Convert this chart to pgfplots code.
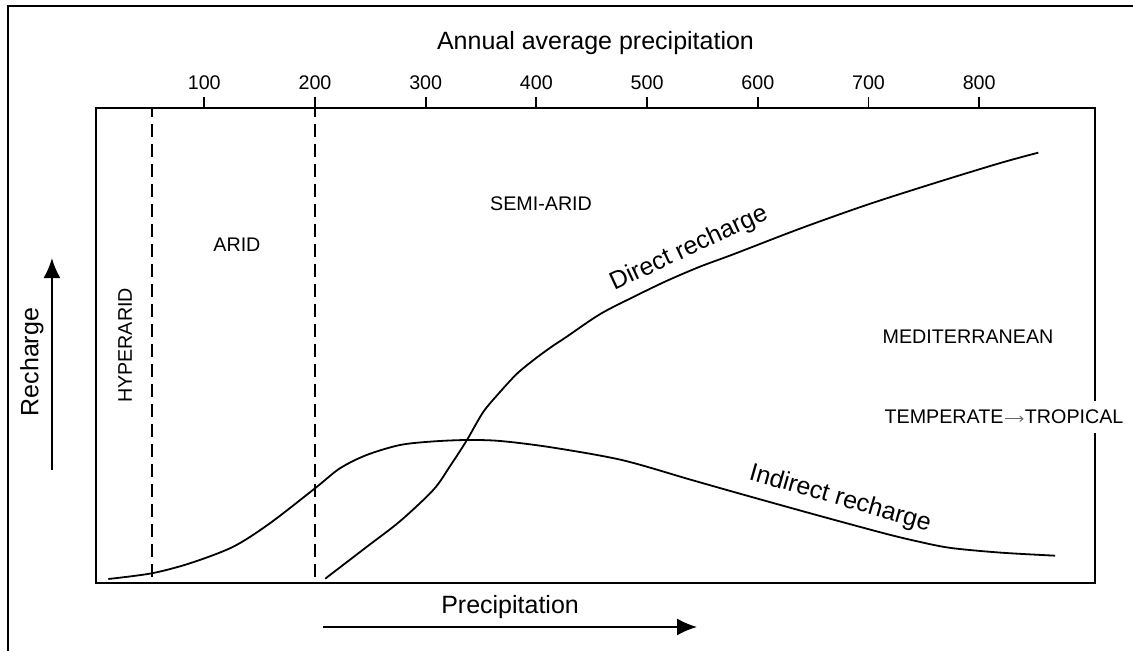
\documentclass[border=0pt]{standalone}
\usepackage{pgfplots}
\pgfplotsset{compat=1.18}
\usepackage{fontspec}
\setmainfont{Liberation Sans}
\usetikzlibrary{arrows.meta}
\tikzset{
  small/.style={font=\fontsize{9.85}{12}\selectfont},
  big/.style={font=\fontsize{12.5}{15}\selectfont},
}
\newcommand{\grayarrow}{\kern0.4pt\tikz[baseline=-0.5ex]\draw[black!60, line width=0.45pt, -{Straight Barb[length=1.6pt,width=2.8pt]}] (0,0) -- (9.4pt,0);\kern0.4pt}
\begin{document}
\begin{tikzpicture}
\useasboundingbox (0,0) rectangle (566.5pt,325.5pt);
\draw[line width=1pt] (4.15pt,-5pt) -- (4.15pt,322.65pt) -- (575pt,322.65pt);
\begin{axis}[
  at={(48pt,34pt)}, anchor=south west,
  scale only axis, width=499.5pt, height=237.5pt,
  xmin=2.2, xmax=904.6, ymin=0, ymax=100,
  axis line style={line width=0.65pt},
  xtick={100,200,...,800}, ytick=\empty,
  xtick pos=right, xticklabel pos=right, xtick align=outside,
  major tick length=5.5pt,
  every tick/.style={black, line width=0.9pt},
  tick label style={font=\fontsize{9.85}{12}\selectfont},
  /pgf/number format/assume math mode=true,
  clip=false,
]
% zone dividers
\addplot[black, line width=1pt, dash pattern=on 6.5pt off 3.5pt] coordinates {(52.5,1.3) (52.5,100)};
\addplot[black, line width=1pt, dash pattern=on 6.5pt off 3.5pt] coordinates {(200,1.3) (200,100)};
% indirect recharge
\addplot[black, line width=0.9pt, smooth, tension=0.5] coordinates {
(13.3,0.84) (52.5,2.04) (87.1,4.15) (126.2,7.64) (159.3,12.57) (200,19.93)
(222.6,24.15) (246.7,26.95) (276.8,29.05) (306.6,29.8) (337,30.1) (367,29.9)
(412.3,28.6) (477,25.9) (540,21.7) (593,18.2) (653.2,14.3) (713.4,10.5)
(743.5,8.8) (773.6,7.4) (818.8,6.4) (868.5,5.75)};
% direct recharge
\addplot[black, line width=0.9pt, smooth, tension=0.5] coordinates {
(209.2,0.9) (246.7,7.6) (276.8,13.0) (306.9,19.6) (322,24.6) (337,30.0)
(352,36.0) (367.1,40.2) (382.2,44.0) (397.2,46.9) (412.3,49.5) (427.4,51.85)
(457.5,56.6) (487.5,60.2) (517.7,63.6) (547.8,66.6) (577.9,69.2) (638.1,74.6)
(698.4,79.6) (758.5,84.1) (818.8,88.4) (853.4,90.6)};
% labels
\node[big, rotate=25] at (axis cs:537.9,70.4) {Direct recharge};
\node[big, rotate=-16] at (axis cs:674.3,17.7) {Indirect recharge};
\node[small, rotate=90] at (axis cs:28.4,50) {HYPERARID};
\node[small] at (axis cs:129.5,71.2) {ARID};
\node[small] at (axis cs:404.2,79.8) {SEMI-ARID};
\node[small] at (axis cs:789.9,51.8) {MEDITERRANEAN};
\node[small, fill=white, inner xsep=1pt, inner ysep=4.5pt] at (axis cs:822.4,34.9) {TEMPERATE\grayarrow TROPICAL};
\node[big] at (axis cs:453.4,113.7) {Annual average precipitation};
\node[big] at (axis cs:376.2,-5.05) {Precipitation};
\node[big, rotate=90] at (axis cs:-55.6,46.5) {Recharge};
\draw[line width=0.9pt, -{Latex[length=10pt,width=8.5pt]}] (axis cs:-37.6,23.8) -- (axis cs:-37.6,68.4);
\draw[line width=0.9pt, -{Latex[length=10pt,width=8.5pt]}] (axis cs:207,-9.26) -- (axis cs:545.1,-9.26);
\end{axis}
\end{tikzpicture}
\end{document}
